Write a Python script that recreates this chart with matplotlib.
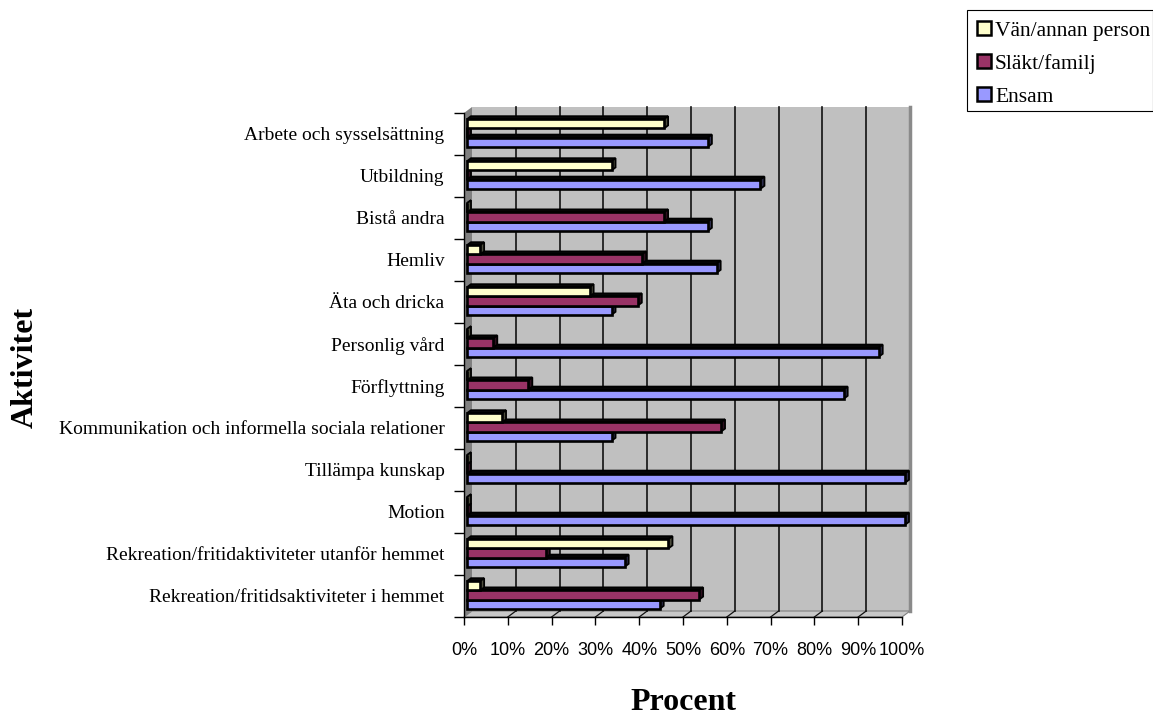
import matplotlib
matplotlib.use('Agg')
import matplotlib.pyplot as plt
from matplotlib.patches import Polygon, Patch, Rectangle
import matplotlib.colors as mcolors

# Aktiviteter uppifran och ned
aktiviteter = ['Arbete och sysselsättning', 'Utbildning', 'Bistå andra', 'Hemliv',
               'Äta och dricka', 'Personlig vård', 'Förflyttning',
               'Kommunikation och informella sociala relationer', 'Tillämpa kunskap',
               'Motion', 'Rekreation/fritidaktiviteter utanför hemmet',
               'Rekreation/fritidsaktiviteter i hemmet']

serier = ['Vän/annan person', 'Släkt/familj', 'Ensam']
van = [45, 33, 0, 3, 28, 0, 0, 8, 0, 0, 46, 3]
slakt = [0, 0, 45, 40, 39, 6, 14, 58, 0, 0, 18, 53]
ensam = [55, 67, 55, 57, 33, 94, 86, 33, 100, 100, 36, 44]
farger = ['#FFFFCC', '#993366', '#9999FF']

xticks = list(range(0, 101, 10))

SERIF = 'Liberation Serif'
SANS = 'Liberation Sans'

W, H = 1153, 716
fig = plt.figure(figsize=(W / 100, H / 100), dpi=100)

# framre planet i pixlar
ax_l, ax_r, ax_t, ax_b = 464, 902, 113, 617
ax = fig.add_axes([ax_l / W, 1 - ax_b / H, (ax_r - ax_l) / W, (ax_b - ax_t) / H])
n = len(aktiviteter)
ax.set_xlim(0, 100)
ax.set_ylim(-0.5, n - 0.5)

# pixel -> dataenheter
ux = 100 / (ax_r - ax_l)
uy = n / (ax_b - ax_t)

# djup for vaggarna
DX, DY = 8 * ux, 6 * uy
ylo, yhi = -0.5, n - 0.5

vagg = '#C0C0C0'
ax.add_patch(Polygon([(DX, ylo + DY), (100 + DX, ylo + DY), (100 + DX, yhi + DY), (DX, yhi + DY)],
                     closed=True, fc=vagg, ec='none', zorder=0.5, clip_on=False))
ax.add_patch(Polygon([(0, ylo), (DX, ylo + DY), (DX, yhi + DY), (0, yhi)],
                     closed=True, fc='#808080', ec='none', zorder=0.6, clip_on=False))
ax.add_patch(Polygon([(0, ylo), (100, ylo), (100 + DX, ylo + DY), (DX, ylo + DY)],
                     closed=True, fc='#C8C8C8', ec='#808080', lw=0.8, zorder=0.7, clip_on=False))
ax.plot([100 + DX, 100 + DX], [ylo + DY, yhi + DY], color='#8A8A8A', lw=2.5,
        zorder=0.8, clip_on=False)

# rutnat pa bakvaggen och golvet
for x in xticks[1:-1]:
    ax.plot([x + DX, x + DX], [ylo + DY, yhi + DY], color='#111111', lw=1.2,
            zorder=0.9, clip_on=False)
    ax.plot([x, x + DX], [ylo, ylo + DY], color='#111111', lw=0.9,
            zorder=0.9, clip_on=False)

# staplar: framsida via barh, topp och sida som polygoner
BX, BY = 3 * ux, 1 * uy
PITCH = 9.2 * uy
HB = PITCH
DDX, DDY = 4 * ux, 3 * uy

ypos = [n - 1 - i for i in range(n)]
varden = [van, slakt, ensam]
offs = [PITCH, 0, -PITCH]

# ritas nedifran och upp sa att overliggande stapel tacker toppen
for k, s in enumerate([2, 1, 0]):
    z = 3 + 0.1 * k
    yy = [y + offs[s] + BY for y in ypos]
    mork = tuple(c * 0.3 for c in mcolors.to_rgb(farger[s]))
    for y, v in zip(yy, varden[s]):
        x0, x1 = BX, BX + v
        y0, y1 = y - HB / 2, y + HB / 2
        ax.add_patch(Polygon([(x0, y1), (x1, y1), (x1 + DDX, y1 + DDY), (x0 + DDX, y1 + DDY)],
                             closed=True, fc='#080808', ec='black', lw=1.3, zorder=z - 0.01,
                             clip_on=False))
        ax.add_patch(Polygon([(x1, y0), (x1 + DDX, y0 + DDY), (x1 + DDX, y1 + DDY), (x1, y1)],
                             closed=True, fc=mork, ec='black', lw=1.3, zorder=z - 0.01,
                             clip_on=False))
    ax.barh(yy, varden[s], left=BX, height=HB, color=farger[s], edgecolor='black',
            linewidth=1.9, zorder=z, clip_on=False)

# axlar
for side in ['top', 'right']:
    ax.spines[side].set_visible(False)
for side in ['left', 'bottom']:
    ax.spines[side].set_color('black')
    ax.spines[side].set_linewidth(1.0)
    ax.spines[side].set_zorder(5)
ax.patch.set_visible(False)

ax.set_xticks(xticks)
ax.set_xticklabels([f'{t}%' for t in xticks], fontfamily=SANS, fontsize=13)
ax.tick_params(axis='x', direction='out', length=6, width=1, pad=12, colors='black')

ax.set_yticks(ypos)
ax.set_yticklabels(aktiviteter, fontfamily=SERIF, fontsize=14)
ax.set_yticks([y + 0.5 for y in range(-1, n)], minor=True)
ax.tick_params(axis='y', which='major', length=0, pad=14)
ax.tick_params(axis='y', which='minor', direction='out', length=7, width=1)

fig.text(25 / W, 1 - 367 / H, 'Aktivitet', rotation=90, ha='center', va='center',
         fontfamily=SERIF, fontsize=23, fontweight='bold')
fig.text(683 / W, 1 - 703 / H, 'Procent', ha='center', va='center',
         fontfamily=SERIF, fontsize=23, fontweight='bold')

# forklaring med egen ram
handtag = [Patch(facecolor=farger[i], edgecolor='black', linewidth=1.8, label=serier[i])
           for i in range(3)]
leg = fig.legend(handles=handtag, loc='upper left', bbox_to_anchor=(966 / W, 1 - 10 / H),
                 prop={'family': SERIF, 'size': 15.5}, frameon=False,
                 borderaxespad=0, handlelength=0.65, handleheight=0.65,
                 handletextpad=0.2, labelspacing=0.62, borderpad=0.5)
fig.patches.append(Rectangle((967 / W, 1 - 111 / H), (W - 967) / W, 101 / H,
                             transform=fig.transFigure, fill=False, ec='black', lw=0.8))

fig.savefig('out.png', dpi=100, facecolor='white')
